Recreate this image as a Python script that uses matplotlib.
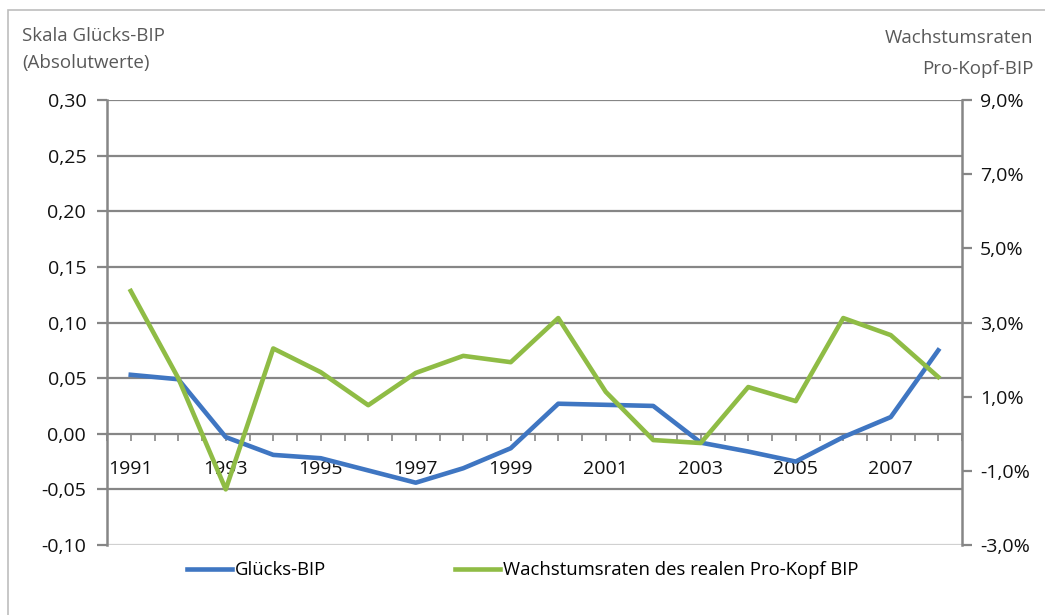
import numpy as np
import matplotlib
matplotlib.use("Agg")
import matplotlib.pyplot as plt
from matplotlib.patches import Rectangle
from matplotlib.lines import Line2D

plt.rcParams['font.family'] = ['Open Sans', 'DejaVu Sans']

# --- DATA ---
years = list(range(1991, 2009))
gluecks_bip = [0.053, 0.049, -0.003, -0.019, -0.022, -0.033, -0.044, -0.031, -0.013,
               0.027, 0.026, 0.025, -0.008, -0.016, -0.025, -0.003, 0.015, 0.075]
wachstum = [3.85, 1.5, -1.5, 2.3, 1.66, 0.77, 1.64, 2.1, 1.93,
            3.12, 1.13, -0.17, -0.25, 1.26, 0.88, 3.12, 2.66, 1.53]
left_ticks = [-0.10, -0.05, 0.00, 0.05, 0.10, 0.15, 0.20, 0.25, 0.30]
right_ticks = [-3, -1, 1, 3, 5, 7, 9]

BLUE = "#3f76c2"
GREEN = "#8fbc45"
GRID = "#868686"
LW = 3.3

fig = plt.figure(figsize=(10.45, 6.15), dpi=100)
fig.patches.append(Rectangle((8 / 1045, -0.1), 1.1, (615 - 10) / 615 + 0.1,
                             transform=fig.transFigure, fill=False,
                             edgecolor="#bdbdbd", linewidth=1.2))

ax = fig.add_axes([107 / 1045, 1 - 545 / 615, (962 - 107) / 1045, 445 / 615])
x = np.arange(len(years))

ax.set_xlim(-0.5, len(years) - 0.5)
ax.set_ylim(-0.10, 0.30)

# gridlines
for v in left_ticks[1:]:
    if v != 0:
        ax.axhline(v, color=GRID, linewidth=1.6, zorder=1)
ax.axhline(-0.10, color="#d0d0d0", linewidth=1.6, zorder=1)

ax.plot(x, gluecks_bip, color=BLUE, linewidth=LW, zorder=3)

# spines
for s in ['top', 'right']:
    ax.spines[s].set_visible(False)
ax.spines['left'].set_color(GRID)
ax.spines['left'].set_linewidth(1.8)
ax.spines['bottom'].set_position(('data', 0))
ax.spines['bottom'].set_color(GRID)
ax.spines['bottom'].set_linewidth(1.6)

ax.set_yticks(left_ticks)
ax.set_yticklabels([f"{v:.2f}".replace('.', ',') for v in left_ticks], fontsize=14, color="#111111")
ax.tick_params(axis='y', length=7, width=1.6, color=GRID, pad=8)

ax.xaxis.remove_overlapping_locs = False
ax.set_xticks(x[::2])
ax.set_xticklabels([str(y) for y in years[::2]], fontsize=14, color="#111111")
ax.set_xticks(np.arange(-0.5, len(years), 0.5), minor=True)
ax.tick_params(axis='x', which='major', length=0, pad=19)
ax.tick_params(axis='x', which='minor', length=5, width=1.2, color=GRID, direction='out')

# right axis
ax2 = ax.twinx()
ax2.set_ylim(-3, 9)
ax2.plot(x, wachstum, color=GREEN, linewidth=LW, zorder=3)
for s in ['top', 'left', 'bottom']:
    ax2.spines[s].set_visible(False)
ax2.spines['right'].set_color(GRID)
ax2.spines['right'].set_linewidth(1.8)
ax2.set_yticks(right_ticks)
ax2.set_yticklabels([f"{v:.1f}%".replace('.', ',') for v in right_ticks], fontsize=14, color="#111111")
ax2.tick_params(axis='y', length=7, width=1.6, color=GRID, pad=6)

# axis titles
fig.text(22 / 1045, 1 - 36 / 615, "Skala Glücks-BIP", fontsize=13.5, color="#595959", va='center')
fig.text(22 / 1045, 1 - 63 / 615, "(Absolutwerte)", fontsize=13.5, color="#595959", va='center')
fig.text(1033 / 1045, 1 - 38 / 615, "Wachstumsraten", fontsize=13.5, color="#595959", va='center', ha='right')
fig.text(1033 / 1045, 1 - 69 / 615, "Pro-Kopf-BIP", fontsize=13.5, color="#595959", va='center', ha='right')

# legend
handles = [Line2D([], [], color=BLUE, linewidth=LW),
           Line2D([], [], color=GREEN, linewidth=LW)]
fig.legend(handles, ["Glücks-BIP", "Wachstumsraten des realen Pro-Kopf BIP"],
           loc='center left', bbox_to_anchor=(187 / 1045, 1 - 570 / 615), ncol=2,
           frameon=False, fontsize=13.3, handlelength=2.43, handletextpad=0.16,
           columnspacing=7.0, borderaxespad=0, borderpad=0)

fig.savefig("out.png", dpi=100)
